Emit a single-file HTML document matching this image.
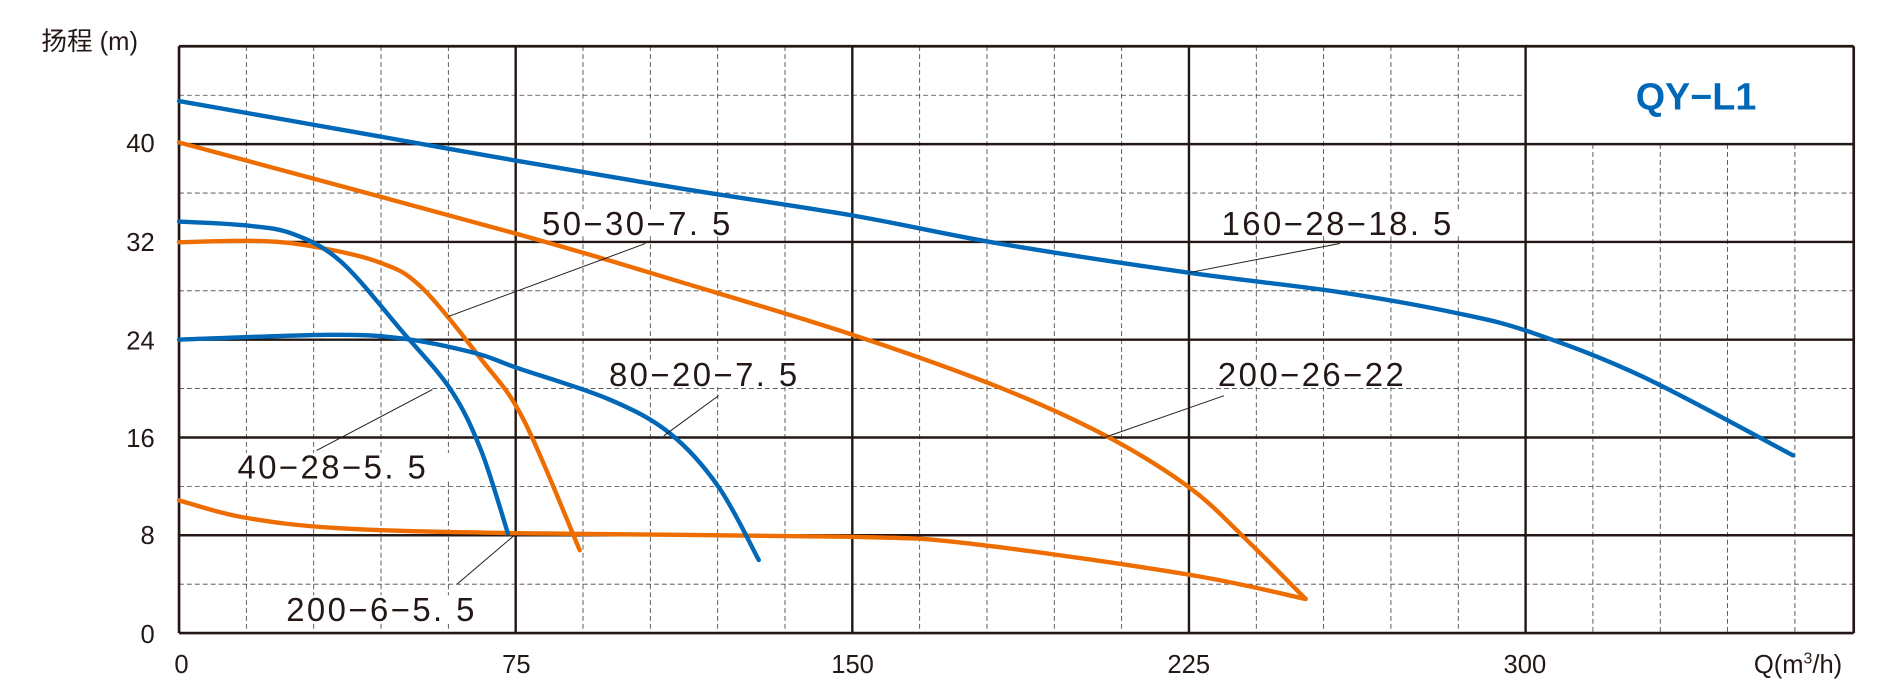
<!DOCTYPE html>
<html><head><meta charset="utf-8"><style>
html,body{margin:0;padding:0;background:#fff;}
svg{display:block;}
text{font-family:"Liberation Sans","Noto Sans CJK SC",sans-serif;fill:#231815;}
</style></head><body>
<svg id="s" width="1900" height="700" viewBox="0 0 1560 575" preserveAspectRatio="none" xmlns="http://www.w3.org/2000/svg">
<g id="grid"></g>
<g id="curves" fill="none" stroke-width="3.6" stroke-linejoin="round" stroke-linecap="round"></g>
<g fill="#fff">
<rect x="443" y="172" width="180" height="22"/>
<rect x="1001" y="172" width="218" height="22"/>
<rect x="498" y="296" width="180" height="22"/>
<rect x="998" y="296" width="178" height="22"/>
<rect x="193" y="372" width="180" height="22"/>
<rect x="233" y="489" width="180" height="22"/>
</g>
<g stroke="#231815" stroke-width="0.8">
<line x1="530" y1="200" x2="368" y2="260"/>
<line x1="1100" y1="200" x2="976" y2="224"/>
<line x1="590" y1="325" x2="545" y2="358"/>
<line x1="1005" y1="325" x2="905" y2="360"/>
<line x1="260" y1="370" x2="355" y2="320"/>
<line x1="375" y1="480" x2="422" y2="440"/>
</g>
<g font-size="27" letter-spacing="2">
<text x="445" y="193">50−30−7. 5</text>
<text x="1003" y="193">160−28−18. 5</text>
<text x="500" y="317">80−20−7. 5</text>
<text x="1000" y="317">200−26−22</text>
<text x="195" y="393">40−28−5. 5</text>
<text x="235" y="510">200−6−5. 5</text>
</g>
<text x="1343" y="90" font-size="31" font-weight="bold" style="fill:#0068b7">QY−L1</text>
<g font-size="21" text-anchor="end">
<text x="127" y="125">40</text><text x="127" y="206">32</text><text x="127" y="287">24</text>
<text x="127" y="367">16</text><text x="127" y="447">8</text><text x="127" y="528">0</text>
</g>
<text x="34" y="41" font-size="21">扬程 (m)</text>
<g font-size="21" text-anchor="middle">
<text x="149" y="553">0</text><text x="424" y="553">75</text><text x="700" y="553">150</text>
<text x="976" y="553">225</text><text x="1252" y="553">300</text>
</g>
<text x="1440" y="553" font-size="21">Q(m<tspan font-size="13" dy="-8">3</tspan><tspan dy="8">/h)</tspan></text>
</svg>
<script>
const NS="http://www.w3.org/2000/svg";
const g=document.getElementById('grid');
const L=147,R=1522,T=38,B=520;
function ln(x1,y1,x2,y2,w,dash,col){const e=document.createElementNS(NS,'line');
e.setAttribute('x1',x1);e.setAttribute('y1',y1);e.setAttribute('x2',x2);e.setAttribute('y2',y2);
e.setAttribute('stroke',col||'#231815');e.setAttribute('stroke-width',w);if(dash)e.setAttribute('stroke-dasharray',dash);g.appendChild(e);}
const px=3.6853, py=10.04;
const xb=L+300*px, yb=B-40*py;
for(let u=15;u*px+L<R-2;u+=15){const x=L+u*px;if(u%75)ln(x,x>xb?yb:T,x,B,0.7,'4,2.5','#444');}
for(let v=4;v<48;v+=4){const y=B-v*py;if(v%8)ln(L,y,y<yb?xb:R,y,0.7,'4,2.5','#444');}
for(let u=75;u<=300;u+=75){const x=L+u*px;ln(x,T,x,B,2);}
for(let v=8;v<48;v+=8){const y=B-v*py;ln(L,y,R,y,2);}
ln(L,T,R,T,2.2);ln(L,B,R,B,2.2);ln(L,T,L,B,2.2);ln(R,T,R,B,2.2);
const c=document.getElementById('curves');
function path(pts,col){
 let d='M'+pts[0][0]+','+pts[0][1];
 for(let i=0;i<pts.length-1;i++){const p0=pts[Math.max(i-1,0)],p1=pts[i],p2=pts[i+1],p3=pts[Math.min(i+2,pts.length-1)];
 const c1=[p1[0]+(p2[0]-p0[0])/6,p1[1]+(p2[1]-p0[1])/6],c2=[p2[0]-(p3[0]-p1[0])/6,p2[1]-(p3[1]-p1[1])/6];
 d+=' C'+c1+' '+c2+' '+p2;}
 const e=document.createElementNS(NS,'path');e.setAttribute('d',d);e.setAttribute('stroke',col);c.appendChild(e);}
const O='#ed6d00',Bl='#0068b7';
path([[147,199],[215,198],[260,203],[310,215],[345,235],[395,295],[430,345],[476,452]],O);
path([[147,117],[424,192],[560,232],[700,275],[820,318],[908,358],[976,400],[1020,440],[1072,492]],O);
path([[147,411],[200,425],[280,434],[424,438],[700,441],[800,447],[976,472],[1072,492]],O);
path([[147,83],[300,110],[424,132],[560,155],[700,177],[820,200],[976,224],[1100,240],[1200,258],[1260,274],[1350,310],[1472,374]],Bl);
path([[147,279],[270,275],[330,278],[390,290],[424,302],[500,328],[550,356],[590,400],[623,460]],Bl);
path([[147,182],[200,185],[240,192],[280,215],[330,272],[370,320],[395,370],[417,438]],Bl);
</script>
</body></html>
